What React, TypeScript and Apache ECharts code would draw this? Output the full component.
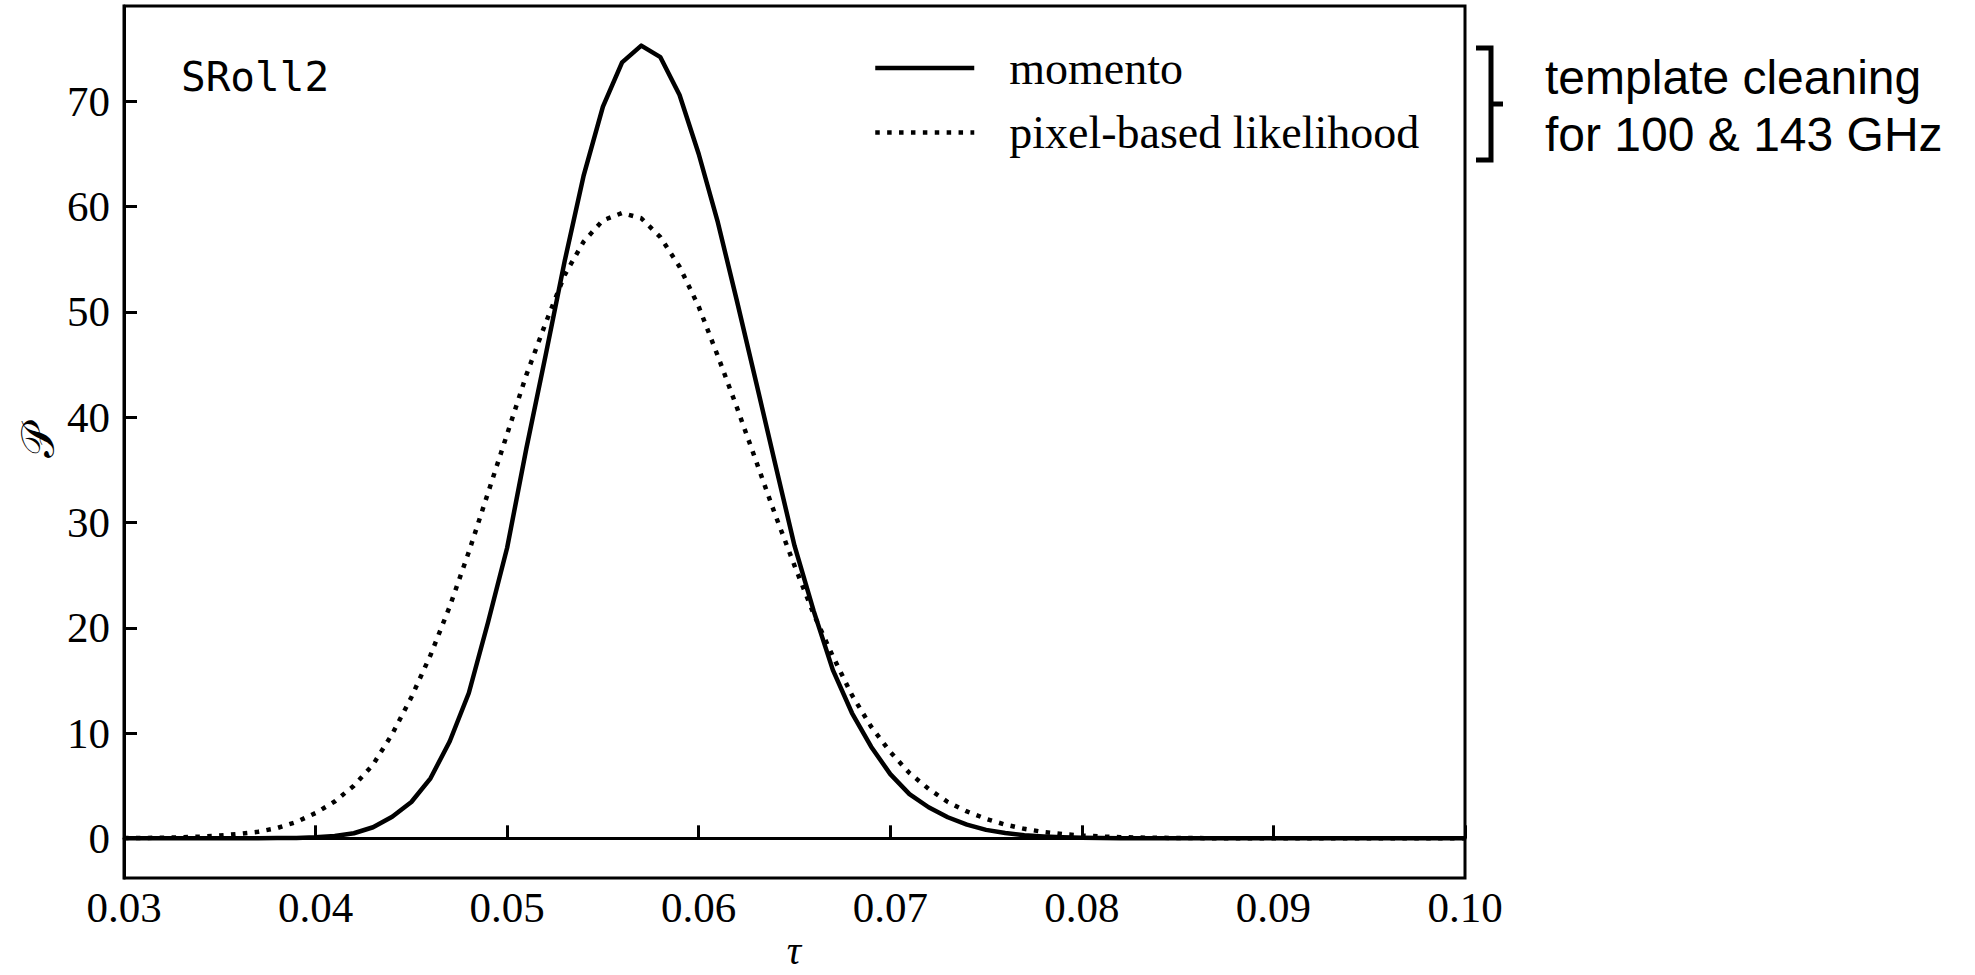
import React, { useEffect, useRef } from 'react';
import * as echarts from 'echarts';

// optical depth grid (tau)
const tau = [
  0.030, 0.031, 0.032, 0.033, 0.034, 0.035, 0.036, 0.037, 0.038, 0.039,
  0.040, 0.041, 0.042, 0.043, 0.044, 0.045, 0.046, 0.047, 0.048, 0.049,
  0.050, 0.051, 0.052, 0.053, 0.054, 0.055, 0.056, 0.057, 0.058, 0.059,
  0.060, 0.061, 0.062, 0.063, 0.064, 0.065, 0.066, 0.067, 0.068, 0.069,
  0.070, 0.071, 0.072, 0.073, 0.074, 0.075, 0.076, 0.077, 0.078, 0.079,
  0.080, 0.081, 0.082, 0.083, 0.084, 0.085, 0.086, 0.087, 0.088, 0.089,
  0.090, 0.091, 0.092, 0.093, 0.094, 0.095, 0.096, 0.097, 0.098, 0.099,
  0.100,
];

// "momento" posterior (solid)
const momento = [
  0, 0, 0, 0, 0, 0, 0.01, 0.01, 0.02, 0.04,
  0.1, 0.22, 0.48, 1.05, 2.05, 3.45, 5.7, 9.2, 13.8, 20.5,
  27.6, 37.0, 45.8, 54.8, 63.0, 69.5, 73.7, 75.3, 74.2, 70.6,
  65.0, 58.5, 51.0, 43.3, 35.5, 27.8, 21.6, 16.0, 11.9, 8.7,
  6.1, 4.2, 2.95, 2.0, 1.3, 0.8, 0.5, 0.3, 0.18, 0.1,
  0.05, 0.03, 0.01, 0, 0, 0, 0, 0, 0, 0,
  0, 0, 0, 0, 0, 0, 0, 0, 0, 0,
  0,
];

// pixel-based likelihood posterior (dotted)
const pixelLike = [
  0.02, 0.03, 0.06, 0.1, 0.16, 0.26, 0.42, 0.62, 0.98, 1.55,
  2.4, 3.5, 5.0, 7.0, 9.9, 13.4, 17.4, 22.0, 27.2, 32.8,
  38.4, 44.0, 48.9, 53.5, 56.7, 58.7, 59.4, 58.9, 57.1, 54.3,
  50.5, 45.8, 40.9, 35.8, 30.7, 25.9, 21.3, 17.3, 13.6, 10.6,
  8.2, 6.2, 4.7, 3.45, 2.55, 1.85, 1.3, 0.9, 0.6, 0.4,
  0.27, 0.17, 0.11, 0.07, 0.05, 0.03, 0.02, 0.01, 0, 0,
  0, 0, 0, 0, 0, 0, 0, 0, 0, 0,
  0,
];

const xTicks = [0.03, 0.04, 0.05, 0.06, 0.07, 0.08, 0.09, 0.1];
const yTicks = [0, 10, 20, 30, 40, 50, 60, 70];
const seriesNames = ['momento', 'pixel-based likelihood'];
const panelLabel = 'SRoll2';
const noteLines = ['template cleaning', 'for 100 & 143 GHz'];
const xName = 'τ';
const yName = '𝒫';

export default function App() {
  const ref = useRef<HTMLDivElement>(null);

  useEffect(() => {
    if (!ref.current) return;
    const chart = echarts.init(ref.current, null, { renderer: 'svg' });
    const serif = '"Liberation Serif", "Times New Roman", serif';
    const axisCommon = {
      axisLine: { show: true, lineStyle: { color: '#000', width: 3 } },
      axisTick: { show: true, inside: true, length: 13, lineStyle: { color: '#000', width: 3 } },
      splitLine: { show: false },
    };
    chart.setOption({
      animation: false,
      backgroundColor: '#fff',
      grid: {
        left: 124, right: 510, top: 6, bottom: 97,
        show: true, borderColor: '#000', borderWidth: 3, backgroundColor: 'transparent',
      },
      xAxis: {
        type: 'value', min: 0.03, max: 0.1,
        ...axisCommon,
        axisTick: { ...axisCommon.axisTick, customValues: xTicks },
        axisLabel: {
          customValues: xTicks, margin: 8, color: '#000', fontFamily: serif, fontSize: 43,
          formatter: (v: number) => v.toFixed(2),
        },
      },
      yAxis: {
        type: 'value', min: -3.77, max: 79.06,
        ...axisCommon,
        axisTick: { ...axisCommon.axisTick, customValues: yTicks },
        axisLabel: {
          customValues: yTicks, margin: 14, color: '#000', fontFamily: serif, fontSize: 43,
          formatter: (v: number) => String(Math.round(v)),
        },
      },
      legend: {
        orient: 'vertical', left: 868, top: 38,
        itemWidth: 99, itemHeight: 14, itemGap: 14.5,
        selectedMode: false,
        itemStyle: { color: 'rgba(0,0,0,0)', borderWidth: 0, opacity: 0 },
        lineStyle: { width: 4.5, color: '#000' },
        textStyle: { fontFamily: serif, fontSize: 46, color: '#000', lineHeight: 50, padding: [0, 0, 0, 30] },
        data: seriesNames,
      },
      series: [
        {
          name: seriesNames[0], type: 'line', symbol: 'none', z: 3,
          data: tau.map((t, i) => [t, momento[i]]),
          itemStyle: { color: '#000' },
          lineStyle: { color: '#000', width: 4.5, cap: 'butt', join: 'round' },
          emphasis: { disabled: true }, silent: true,
        },
        {
          name: seriesNames[1], type: 'line', symbol: 'none', z: 2,
          data: tau.map((t, i) => [t, pixelLike[i]]),
          itemStyle: { color: '#000' },
          lineStyle: { color: '#000', width: 4.5, type: [4.5, 7.4], cap: 'butt' },
          emphasis: { disabled: true }, silent: true,
        },
      ],
      graphic: [
        {
          type: 'text', x: 181, y: 77,
          style: { text: panelLabel, fontFamily: '"DejaVu Sans Mono", monospace', fontSize: 41, fill: '#000', align: 'left', verticalAlign: 'middle' },
        },
        {
          type: 'text', x: 794, y: 950,
          style: { text: xName, fontFamily: serif, fontStyle: 'italic', fontSize: 40, lineHeight: 40, fill: '#000', align: 'center', verticalAlign: 'middle' },
        },
        {
          type: 'text', x: 38, y: 441, rotation: Math.PI / 2,
          style: { text: yName, fontFamily: '"DejaVu Serif", serif', fontSize: 46, fill: '#000', align: 'center', verticalAlign: 'middle' },
        },
        {
          type: 'polyline',
          shape: { points: [[1476, 48], [1491, 48], [1491, 160], [1476, 160]] },
          style: { stroke: '#000', lineWidth: 5, fill: null },
        },
        {
          type: 'line',
          shape: { x1: 1491, y1: 104, x2: 1503, y2: 104 },
          style: { stroke: '#000', lineWidth: 5 },
        },
        {
          type: 'text', x: 1545, y: 77,
          style: { text: noteLines[0], fontFamily: '"Liberation Sans", Arial, sans-serif', fontSize: 48, fill: '#000', align: 'left', verticalAlign: 'middle' },
        },
        {
          type: 'text', x: 1545, y: 134,
          style: { text: noteLines[1], fontFamily: '"Liberation Sans", Arial, sans-serif', fontSize: 48, fill: '#000', align: 'left', verticalAlign: 'middle' },
        },
      ],
    });
    return () => chart.dispose();
  }, []);

  return (
    <div
      ref={ref}
      style={{ position: 'fixed', left: 0, top: 0, width: 1975, height: 975, background: '#fff' }}
    />
  );
}
